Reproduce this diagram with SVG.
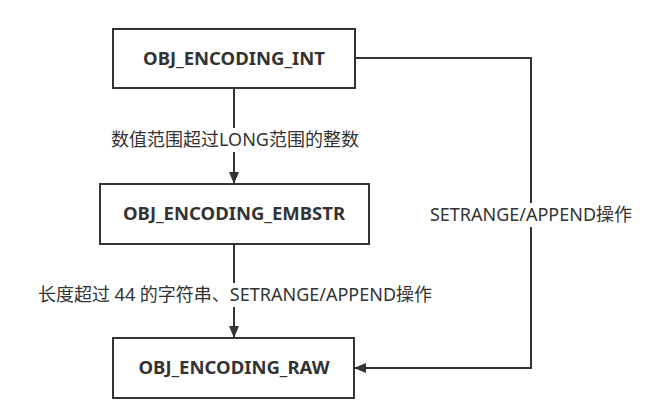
<svg xmlns="http://www.w3.org/2000/svg" width="645" height="410" viewBox="0 0 645 410">
<style>
.box{fill:#fff;stroke:#333;stroke-width:2}
.bt{font-family:"Noto Sans","Liberation Sans",sans-serif;font-weight:bold;font-size:18.5px;fill:#333;text-anchor:middle}
.lt{font-family:"Noto Sans","Noto Sans CJK SC",sans-serif;font-size:18px;fill:#333;text-anchor:middle}
.ln{fill:none;stroke:#333;stroke-width:2}
</style>
<defs>
<marker id="ah" markerWidth="12" markerHeight="10" refX="11" refY="5" orient="auto" markerUnits="userSpaceOnUse">
<path d="M0,0 L12,5 L0,10 Z" fill="#333"/>
</marker>
</defs>
<rect width="645" height="410" fill="#fff"/>
<g id="connectors">
<line class="ln" x1="234" y1="88" x2="234" y2="183" marker-end="url(#ah)"/>
<line class="ln" x1="234" y1="244" x2="234" y2="337" marker-end="url(#ah)"/>
<polyline class="ln" points="355,58 531,58 531,368 355,368" marker-end="url(#ah)"/>
<rect x="110" y="128" width="250" height="24" fill="#fff"/>
<text class="lt" x="235" y="146">数值范围超过LONG范围的整数</text>
<rect x="34" y="283" width="402" height="24" fill="#fff"/>
<text class="lt" x="235" y="301">长度超过 44 的字符串、SETRANGE/APPEND操作</text>
<rect x="426" y="203" width="210" height="24" fill="#fff"/>
<text class="lt" x="531" y="221">SETRANGE/APPEND操作</text>
</g>
<g id="int">
<rect class="box" x="113" y="29" width="242" height="59"/>
<text class="bt" x="234" y="65">OBJ_ENCODING_INT</text>
</g>
<g id="embstr">
<rect class="box" x="100" y="184" width="269" height="60"/>
<text class="bt" x="234" y="220">OBJ_ENCODING_EMBSTR</text>
</g>
<g id="raw">
<rect class="box" x="113" y="338" width="241" height="60"/>
<text class="bt" x="234" y="374">OBJ_ENCODING_RAW</text>
</g>
</svg>
